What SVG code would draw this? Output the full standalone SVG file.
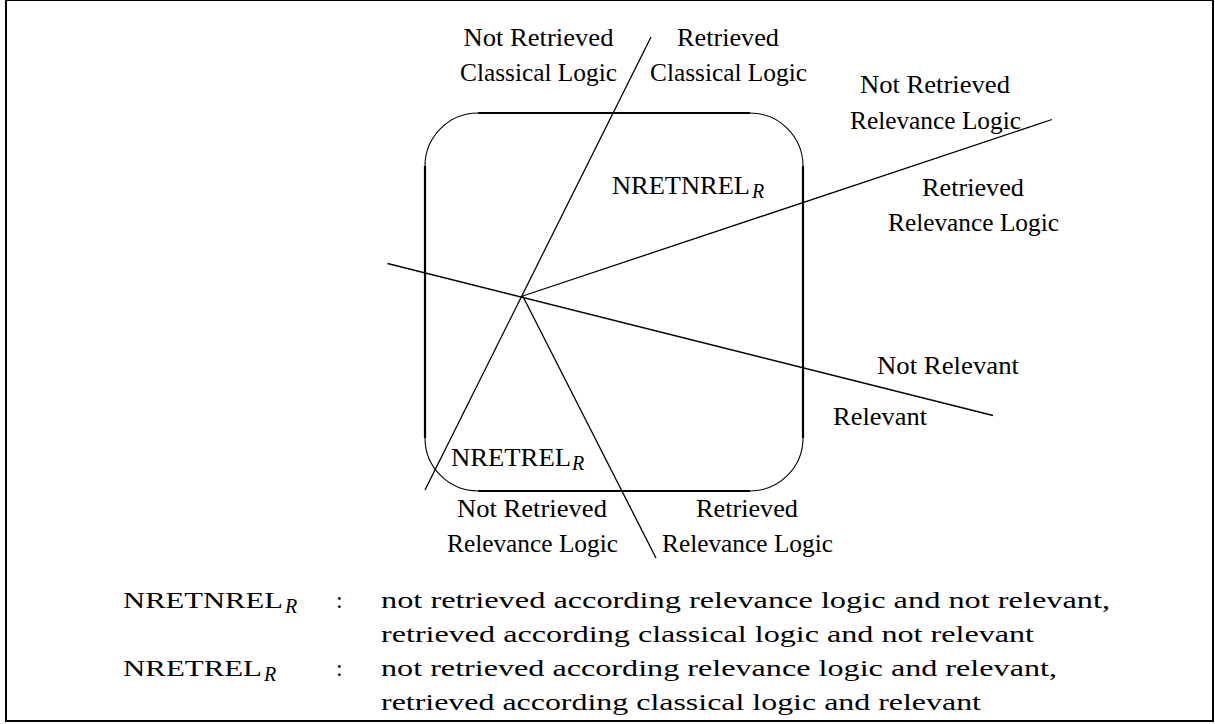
<svg xmlns="http://www.w3.org/2000/svg" width="1215" height="724" viewBox="0 0 1215 724">
  <style>
    .frame { fill: none; stroke: #000; stroke-width: 2; }
    .side { stroke: #000; stroke-width: 2.2; fill: none; }
    .arc { stroke: #000; stroke-width: 1.1; fill: none; }
    .cut { stroke: #000; stroke-width: 1.3; fill: none; }
    .lbl { font-family: "Liberation Serif", "DejaVu Serif", serif; font-size: 24.5px; fill: #000; }
    .sub { font-family: "Liberation Serif", "DejaVu Serif", serif; font-style: italic; font-size: 20px; fill: #000; }
    .leg { font-family: "Liberation Serif", "DejaVu Serif", serif; font-size: 24px; fill: #000; }
    .legsub { font-family: "Liberation Serif", "DejaVu Serif", serif; font-style: italic; font-size: 20px; fill: #000; }
  </style>

  <rect class="frame" x="6" y="0" width="1207" height="721"/>

  <!-- rounded region box: straight edges heavier, corner arcs thin -->
  <g id="region-box">
    <line class="side" x1="478" y1="113" x2="750" y2="113"/>
    <line class="side" x1="478" y1="491" x2="750" y2="491"/>
    <line class="side" x1="425" y1="166" x2="425" y2="438"/>
    <line class="side" x1="803" y1="166" x2="803" y2="438"/>
    <path class="arc" d="M425,166 A53,53 0 0 1 478,113"/>
    <path class="arc" d="M750,113 A53,53 0 0 1 803,166"/>
    <path class="arc" d="M803,438 A53,53 0 0 1 750,491"/>
    <path class="arc" d="M478,491 A53,53 0 0 1 425,438"/>
  </g>

  <!-- dividing lines through the common point -->
  <g id="connectors">
    <line class="cut" x1="651" y1="37" x2="425" y2="490"/>
    <line class="cut" x1="522.7" y1="296" x2="1052" y2="119.5"/>
    <line class="cut" x1="387.5" y1="263.5" x2="993" y2="415.5"/>
    <line class="cut" x1="522.7" y1="296" x2="656" y2="558"/>
  </g>

  <g id="classical-not-retrieved">
    <text class="lbl" x="463.5" y="46" textLength="150" lengthAdjust="spacingAndGlyphs">Not Retrieved</text>
    <text class="lbl" x="460" y="81" textLength="157" lengthAdjust="spacingAndGlyphs">Classical Logic</text>
  </g>
  <g id="classical-retrieved">
    <text class="lbl" x="677" y="46" textLength="102" lengthAdjust="spacingAndGlyphs">Retrieved</text>
    <text class="lbl" x="650" y="81" textLength="157" lengthAdjust="spacingAndGlyphs">Classical Logic</text>
  </g>
  <g id="relevance-not-retrieved-right">
    <text class="lbl" x="860" y="93" textLength="150" lengthAdjust="spacingAndGlyphs">Not Retrieved</text>
    <text class="lbl" x="850" y="129" textLength="171" lengthAdjust="spacingAndGlyphs">Relevance Logic</text>
  </g>
  <g id="relevance-retrieved-right">
    <text class="lbl" x="922" y="196" textLength="102" lengthAdjust="spacingAndGlyphs">Retrieved</text>
    <text class="lbl" x="888" y="231" textLength="171" lengthAdjust="spacingAndGlyphs">Relevance Logic</text>
  </g>
  <g id="region-nretnrel">
    <text class="lbl" x="612" y="194" textLength="138" lengthAdjust="spacingAndGlyphs">NRETNREL</text>
    <text class="sub" x="752" y="198">R</text>
  </g>
  <g id="region-nretrel">
    <text class="lbl" x="451" y="466" textLength="120" lengthAdjust="spacingAndGlyphs">NRETREL</text>
    <text class="sub" x="572" y="470">R</text>
  </g>
  <g id="not-relevant">
    <text class="lbl" x="877" y="374" textLength="142" lengthAdjust="spacingAndGlyphs">Not Relevant</text>
  </g>
  <g id="relevant">
    <text class="lbl" x="833" y="425" textLength="94" lengthAdjust="spacingAndGlyphs">Relevant</text>
  </g>
  <g id="relevance-not-retrieved-bottom">
    <text class="lbl" x="457" y="517" textLength="150" lengthAdjust="spacingAndGlyphs">Not Retrieved</text>
    <text class="lbl" x="447" y="552" textLength="171" lengthAdjust="spacingAndGlyphs">Relevance Logic</text>
  </g>
  <g id="relevance-retrieved-bottom">
    <text class="lbl" x="696" y="517" textLength="102" lengthAdjust="spacingAndGlyphs">Retrieved</text>
    <text class="lbl" x="662" y="552" textLength="171" lengthAdjust="spacingAndGlyphs">Relevance Logic</text>
  </g>

  <!-- legend -->
  <g id="legend">
    <text class="leg" x="123" y="608" textLength="160" lengthAdjust="spacingAndGlyphs">NRETNREL</text>
    <text class="legsub" x="285" y="613">R</text>
    <text class="leg" x="336" y="608">:</text>
    <text class="leg" x="381" y="608" textLength="729" lengthAdjust="spacingAndGlyphs">not retrieved according relevance logic and not relevant,</text>
    <text class="leg" x="381" y="642" textLength="653" lengthAdjust="spacingAndGlyphs">retrieved according classical logic and not relevant</text>
    <text class="leg" x="123" y="676" textLength="139" lengthAdjust="spacingAndGlyphs">NRETREL</text>
    <text class="legsub" x="264" y="681">R</text>
    <text class="leg" x="336" y="676">:</text>
    <text class="leg" x="381" y="676" textLength="676" lengthAdjust="spacingAndGlyphs">not retrieved according relevance logic and relevant,</text>
    <text class="leg" x="381" y="710" textLength="600" lengthAdjust="spacingAndGlyphs">retrieved according classical logic and relevant</text>
  </g>
</svg>
